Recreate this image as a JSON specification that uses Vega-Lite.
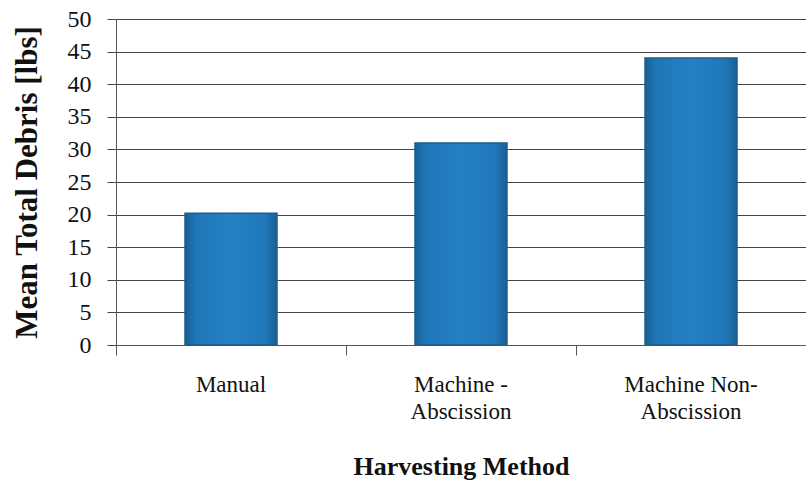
{
  "$schema": "https://vega.github.io/schema/vega-lite/v6.json",
  "autosize": "none",
  "width": 690,
  "height": 326,
  "padding": {"left": 116, "top": 19, "right": 0, "bottom": 140},
  "background": "white",
  "data": {
    "values": [
      {"method": "Manual", "debris": 20.2},
      {"method": "Machine - Abscission", "debris": 31.0},
      {"method": "Machine Non-Abscission", "debris": 44.0}
    ]
  },
  "mark": {
    "type": "bar",
    "width": {"band": 0.4},
    "stroke": "#1b5d8c",
    "strokeWidth": 1.5,
    "color": {
      "gradient": "linear",
      "x1": 0, "x2": 1, "y1": 0, "y2": 0,
      "stops": [
        {"offset": 0, "color": "#1a5f91"},
        {"offset": 0.12, "color": "#1f77b8"},
        {"offset": 0.5, "color": "#2580c2"},
        {"offset": 0.88, "color": "#1f77b8"},
        {"offset": 1, "color": "#1a5f91"}
      ]
    }
  },
  "encoding": {
    "x": {
      "field": "method",
      "type": "nominal",
      "sort": null,
      "scale": {"paddingInner": 0, "paddingOuter": 0},
      "axis": {
        "title": "Harvesting Method",
        "titleFont": "Liberation Serif",
        "titleFontSize": 26,
        "titleFontWeight": "bold",
        "titleColor": "#111",
        "titlePadding": 30,
        "labelFont": "Liberation Serif",
        "labelFontSize": 23,
        "labelColor": "#111",
        "labelAngle": 0,
        "labelPadding": 18,
        "labelLineHeight": 27,
        "labelExpr": "datum.label == 'Machine - Abscission' ? ['Machine -', 'Abscission'] : datum.label == 'Machine Non-Abscission' ? ['Machine Non-', 'Abscission'] : datum.label",
        "bandPosition": 0,
        "ticks": true,
        "tickSize": 10,
        "tickColor": "#555",
        "domainColor": "#555",
        "grid": false
      }
    },
    "y": {
      "field": "debris",
      "type": "quantitative",
      "scale": {"domain": [0, 50], "nice": false},
      "axis": {
        "title": "Mean Total Debris [lbs]",
        "titleFont": "Liberation Serif",
        "titleFontSize": 31,
        "titleFontWeight": "bold",
        "titleColor": "#111",
        "titlePadding": 24,
        "values": [0, 5, 10, 15, 20, 25, 30, 35, 40, 45, 50],
        "labelFont": "Liberation Serif",
        "labelFontSize": 24,
        "labelColor": "#111",
        "labelPadding": 16,
        "tickSize": 9,
        "tickColor": "#444",
        "domainColor": "#555",
        "grid": true,
        "gridColor": "#444",
        "gridWidth": 1,
        "gridOpacity": 1
      }
    }
  },
  "config": {
    "view": {"stroke": null}
  }
}
